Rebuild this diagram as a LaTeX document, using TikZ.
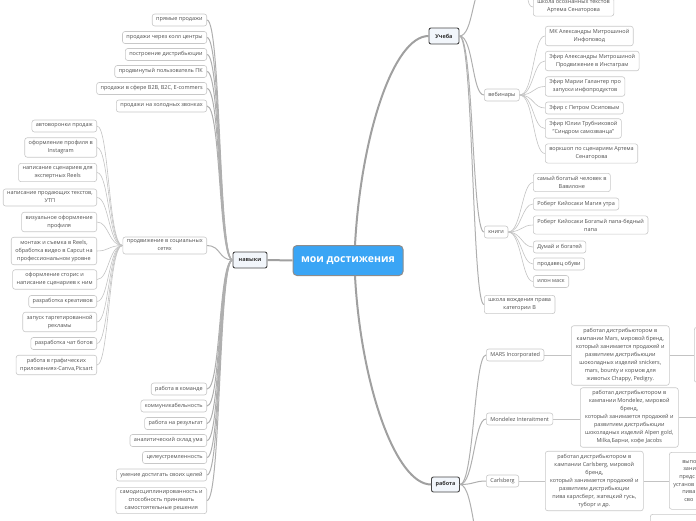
\documentclass[tikz,border=0pt]{standalone}
\usepackage{fontspec}
\setmainfont{Open Sans}
\definecolor{rootblue}{RGB}{58,165,245}
\definecolor{txt}{RGB}{80,80,80}
\definecolor{leafborder}{RGB}{200,200,200}
\definecolor{linkc}{RGB}{195,195,195}
\definecolor{midlinkc}{RGB}{175,175,175}
\definecolor{rootlinkc}{RGB}{160,160,160}
\definecolor{midfill}{RGB}{242,246,251}
\definecolor{midborder}{RGB}{70,70,70}
\begin{document}
\begin{tikzpicture}[x=1pt,y=-1pt,
  leaf/.style={draw=leafborder, fill=white, rounded corners=2.5pt, line width=0.6pt,
    text=txt, font=\fontsize{5.5}{8}\selectfont, align=center,
    inner xsep=4pt, inner ysep=3pt, minimum height=12pt},
  midnode/.style={draw=midborder, fill=midfill, rounded corners=2pt, line width=0.9pt,
    text=black!80, font=\fontsize{5.5}{8}\selectfont\bfseries, inner xsep=3pt, inner ysep=0pt},
  rootnode/.style={draw=black!45, fill=rootblue, rounded corners=4pt, line width=1pt,
    text=white, font=\fontsize{10.5}{12}\selectfont\bfseries},
  link/.style={draw=linkc, line width=0.6pt},
  midlink/.style={draw=midlinkc, line width=1pt},
  rootlink/.style={draw=rootlinkc, line width=2pt},
]
\useasboundingbox (0,0) rectangle (696,520);
\clip (0,0) rectangle (696,520);

% ---------- main nodes ----------
\node[rootnode, minimum width=110pt, minimum height=30pt] (root) at (348,260.5) {мои достижения};
\node[midnode, minimum width=34pt, minimum height=16pt] (nav) at (250,260) {навыки};
\node[midnode, minimum width=30pt, minimum height=16pt] (ucheba) at (444,36) {Учеба};
\node[midnode, minimum width=28pt, minimum height=15pt] (rabota) at (445.5,484.5) {работа};

\draw[rootlink] (root.west) -- (nav.east);
\draw[rootlink] ([xshift=7pt]root.north) .. controls +(6,-110) and +(-35,0) .. (ucheba.west);
\draw[rootlink] ([xshift=7pt]root.south) .. controls +(6,110) and +(-35,0) .. (rabota.west);

% ---------- навыки ----------
\node[leaf, anchor=east] (s1) at (207,20) {прямые продажи};
\node[leaf, anchor=east] (s2) at (207,37.5) {продажи через колл центры};
\node[leaf, anchor=east] (s3) at (207,54.5) {построение дистрибьюции};
\node[leaf, anchor=east] (s4) at (207,71.5) {продвинутый пользователь ПК};
\node[leaf, anchor=east] (s5) at (207,88.5) {продажи в сфере B2B, B2C, E-commers};
\node[leaf, anchor=east] (s6) at (207,106) {продажи на холодных звонках};
\node[leaf, anchor=east] (smm) at (207,245.5) {продвижение в социальных\\сетях};
\node[leaf, anchor=east] (s8) at (207,389) {работа в команде};
\node[leaf, anchor=east] (s9) at (207,406) {коммуникабельность};
\node[leaf, anchor=east] (s10) at (207,423.5) {работа на результат};
\node[leaf, anchor=east] (s11) at (207,440.5) {аналитический склад ума};
\node[leaf, anchor=east] (s12) at (207,457.5) {целеустремленность};
\node[leaf, anchor=east] (s13) at (207,475) {умение достигать своих целей};
\node[leaf, anchor=east] (s14) at (207,500.5) {самодисциплинированность и\\способность принимать\\самостоятельные решения};

\foreach \n in {s1,s2,s3,s4,s5,s6,smm,s8,s9,s10,s11,s12,s13,s14}
  \draw[midlink] (nav.west) .. controls +(-14,0) and +(14,0) .. (\n.east);

% ---------- продвижение в соц. сетях ----------
\node[leaf, anchor=east] (m1) at (97,126) {автоворонки продаж};
\node[leaf, anchor=east] (m2) at (97,147.5) {оформление профиля в\\Instagram};
\node[leaf, anchor=east] (m3) at (97,172.5) {написание сценариев для\\экспертных Reels};
\node[leaf, anchor=east] (m4) at (97,197.5) {написание продающих текстов,\\УТП};
\node[leaf, anchor=east] (m5) at (97,222) {визуальное оформление\\профиля};
\node[leaf, anchor=east] (m6) at (97,251) {монтаж и съемка в Reels,\\обработка видео в Capcut на\\профессиональном уровне};
\node[leaf, anchor=east] (m7) at (97,279.5) {оформление сторис и\\написание сценариев к ним};
\node[leaf, anchor=east] (m8) at (97,301.5) {разработка креативов};
\node[leaf, anchor=east] (m9) at (97,322) {запуск таргетированной\\рекламы};
\node[leaf, anchor=east] (m10) at (97,343.5) {разработка чат ботов};
\node[leaf, anchor=east] (m11) at (97,365) {работа в графических\\приложениях-Canva,Picsart};

\foreach \n in {m1,m2,m3,m4,m5,m6,m7,m8,m9,m10,m11}
  \draw[link] (smm.west) .. controls +(-14,0) and +(12,0) .. (\n.east);

% ---------- Учеба ----------
\coordinate (utop) at (484,-14);
\coordinate (kursy) at (522,-14);
\node[leaf, anchor=west] (school) at (533,7) {школа осознанных текстов\\Артема Сенаторова};
\node[leaf, anchor=west] (web) at (484,95) {вебинары};
\node[leaf, anchor=west] (books) at (484,232) {книги};
\node[leaf, anchor=west] (drive) at (484,304.5) {школа вождения права\\категории B};

\foreach \n in {web,books,drive}
  \draw[midlink] (ucheba.east) .. controls +(14,0) and +(-12,0) .. (\n.west);
\draw[midlink] (ucheba.east) .. controls +(14,0) and +(-12,0) .. (utop);
\draw[link] (kursy) .. controls +(8,0) and +(-8,0) .. (school.west);

\node[leaf, anchor=west] (w1) at (545,36) {МК Александры Митрошиной\\Инфоповод};
\node[leaf, anchor=west] (w2) at (545,61) {Эфир Александры Митрошиной\\Продвижение в Инстаграм};
\node[leaf, anchor=west] (w3) at (545,86.5) {Эфир Марии Галантер про\\запуски инфопродуктов};
\node[leaf, anchor=west] (w4) at (545,108) {Эфир с Петром Осиповым};
\node[leaf, anchor=west] (w5) at (545,128.5) {Эфир Юлии Трубниковой\\"Синдром самозванца"};
\node[leaf, anchor=west] (w6) at (545,153.5) {воркшоп по сценариям Артема\\Сенаторова};

\foreach \n in {w1,w2,w3,w4,w5,w6}
  \draw[link] (web.east) .. controls +(14,0) and +(-12,0) .. (\n.west);

\node[leaf, anchor=west] (b1) at (533,182.5) {самый богатый человек в\\Вавилоне};
\node[leaf, anchor=west] (b2) at (533,204) {Роберт Кийосаки Магия утра};
\node[leaf, anchor=west] (b3) at (533,225) {Роберт Кийосаки Богатый папа-бедный\\папа};
\node[leaf, anchor=west] (b4) at (533,247) {Думай и богатей};
\node[leaf, anchor=west] (b5) at (533,264) {продавец обуви};
\node[leaf, anchor=west] (b6) at (533,281.5) {илон маск};

\foreach \n in {b1,b2,b3,b4,b5,b6}
  \draw[link] (books.east) .. controls +(13,0) and +(-11,0) .. (\n.west);

% ---------- работа ----------
\node[leaf, anchor=west] (mars) at (486,355) {MARS Incorporated};
\node[leaf, anchor=west] (mond) at (486,419) {Mondelez Interaitment};
\node[leaf, anchor=west] (carl) at (486,481) {Carlsberg};
\coordinate (r4) at (486,560);

\foreach \n in {mars,mond,carl}
  \draw[midlink] (rabota.east) .. controls +(14,0) and +(-12,0) .. (\n.west);
\draw[midlink] (rabota.east) .. controls +(14,0) and +(-12,0) .. (r4);

\node[leaf, anchor=west, minimum width=98pt] (marsd) at (571,355.5)
  {работал дистрибьютором в\\кампании Mars, мировой бренд,\\который занимается продажей и\\развитием дистрибьюции\\шоколадных изделий snickers,\\mars, bounty и кормов для\\животых Chappy, Pedigry.};
\node[leaf, anchor=west, minimum width=98pt] (mondd) at (580,417.5)
  {работал дистрибьютором в\\кампании Mondelez, мировой\\бренд,\\который занимается продажей и\\развитием дистрибьюции\\шоколадных изделий Alpen gold,\\Milka,Барни, кофе Jacobs};
\node[leaf, anchor=west, minimum width=98pt] (carld) at (545,481)
  {работал дистрибьютором в\\кампании Carlsberg, мировой\\бренд,\\который занимается продажей и\\развитием дистрибьюции\\пива карлсберг, жатецкий гусь,\\туборг и др.};

\node[leaf, anchor=north west, minimum width=70pt, minimum height=55pt] (mars2) at (694,327) {};
\coordinate (mond2) at (720,418);
\node[leaf, anchor=north west, align=left, text width=80pt, inner xsep=0pt,
  minimum height=57pt, inner ysep=2.5pt, font=\fontsize{5.5}{7.7}\selectfont] (carl2) at (669,452)
  {\hspace*{13pt}выпо\\\hspace*{14pt}зани\\\hspace*{10pt}предс\\\hspace*{4pt}установ\\\hspace*{13pt}пива\\\hspace*{15pt}сво};
\node[leaf, anchor=north west, minimum width=90pt, minimum height=40pt] (r4box) at (650,514) {};

\draw[link] (mars.east) -- (mars.east -| marsd.west);
\draw[link] (marsd.east) -- (marsd.east -| mars2.west);
\draw[link] (mond.east) -- (mond.east -| mondd.west);
\draw[link] (mondd.east) -- (mondd.east -| mond2);
\draw[link] (carl.east) -- (carl.east -| carld.west);
\draw[link] (carld.east) -- (carld.east -| carl2.west);
\end{tikzpicture}
\end{document}
